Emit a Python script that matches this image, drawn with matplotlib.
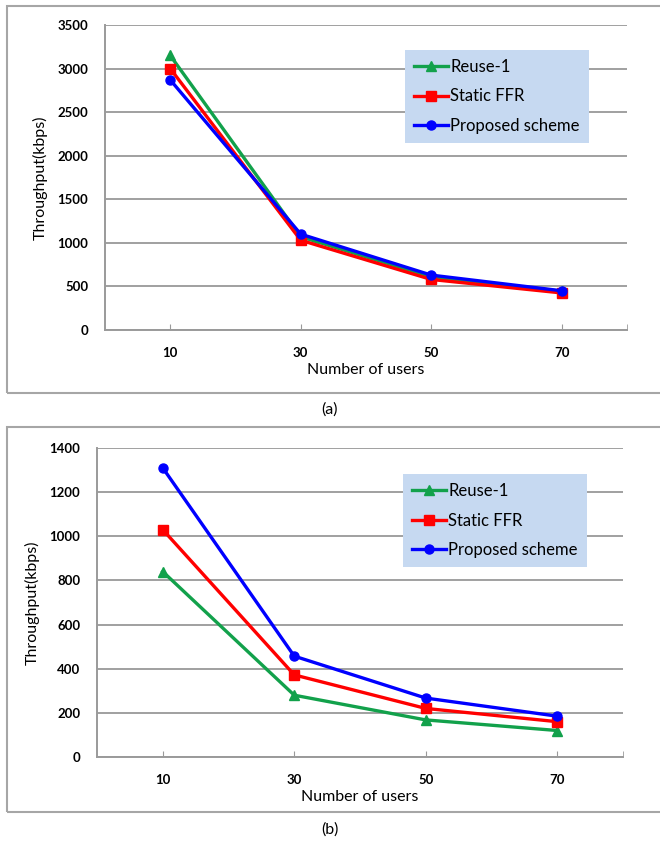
import matplotlib
matplotlib.use("Agg")
import matplotlib.pyplot as plt
from matplotlib.patches import Rectangle

plt.rcParams['font.family'] = ['Lato', 'DejaVu Sans']

users = [10, 30, 50, 70]
series_names = ["Reuse-1", "Static FFR", "Proposed scheme"]

# Panel (a)
a_reuse = [3150, 1070, 610, 445]
a_ffr = [3000, 1030, 580, 425]
a_prop = [2870, 1100, 630, 450]
a_yticks = [0, 500, 1000, 1500, 2000, 2500, 3000, 3500]

# Panel (b)
b_reuse = [840, 280, 168, 120]
b_ffr = [1030, 372, 220, 160]
b_prop = [1310, 457, 267, 185]
b_yticks = [0, 200, 400, 600, 800, 1000, 1200, 1400]

colors = ["#12a14b", "#ff0000", "#0000ff"]
markers = ["^", "s", "o"]
msizes = [7.5, 6.5, 6.5]

W, H = 660, 850
fig = plt.figure(figsize=(W / 100, H / 100), dpi=100)

def px_axes(x0, y0, x1, y1):
    return fig.add_axes([x0 / W, 1 - y1 / H, (x1 - x0) / W, (y1 - y0) / H])

def frame(y0, y1):
    r = Rectangle((7 / W, 1 - y1 / H), (W + 20) / W, (y1 - y0) / H,
                  transform=fig.transFigure, fill=False,
                  edgecolor="#a6a6a6", linewidth=1.5, clip_on=False)
    fig.add_artist(r)

def panel(ax, data, yticks, leg_xy):
    for vals, name, c, m, ms in zip(data, series_names, colors, markers, msizes):
        ax.plot(users, vals, color=c, marker=m, markersize=ms, linewidth=2.4,
                label=name, markeredgecolor=c)
    ax.set_xlim(0, 80)
    ax.set_ylim(yticks[0], yticks[-1])
    ax.set_yticks(yticks)
    ax.set_xticks(users)
    ax.set_xticks([80], minor=True)
    ax.grid(axis='y', color="#a0a0a0", linewidth=1.4)
    ax.set_axisbelow(True)
    for s in ["top", "right"]:
        ax.spines[s].set_visible(False)
    for s in ["left", "bottom"]:
        ax.spines[s].set_color("#9a9a9a")
        ax.spines[s].set_linewidth(1.4)
    ax.tick_params(axis='y', length=0, pad=12, labelsize=9.5)
    ax.tick_params(axis='x', which='both', direction='in', length=4,
                   color="#9a9a9a", pad=12, labelsize=9.5)
    for t in ax.get_xticklabels() + ax.get_yticklabels():
        t.set_fontweight('bold')
    ax.set_xlabel("Number of users", fontsize=11.5, labelpad=3)
    ax.set_ylabel("Throughput(kbps)", fontsize=11.5, labelpad=7)
    ax.legend(loc='upper left', bbox_to_anchor=leg_xy, frameon=True,
              fancybox=False, facecolor="#c6d9f1", edgecolor="none",
              framealpha=1, fontsize=12, handlelength=2.0,
              handletextpad=0.15, labelspacing=0.8, borderpad=0.55,
              borderaxespad=0)

frame(6, 393)
frame(427, 812)

ax1 = px_axes(105, 25, 627, 330)
panel(ax1, [a_reuse, a_ffr, a_prop], a_yticks,
      ((405 - 105) / 522, (330 - 50) / 305))

ax2 = px_axes(97, 448, 623, 757)
panel(ax2, [b_reuse, b_ffr, b_prop], b_yticks,
      ((403 - 97) / 526, (757 - 474) / 309))

fig.text(330 / W, 1 - 410 / H, "(a)", ha='center', va='center', fontsize=11.5)
fig.text(330 / W, 1 - 830 / H, "(b)", ha='center', va='center', fontsize=11.5)

fig.savefig("out.png", dpi=100)
